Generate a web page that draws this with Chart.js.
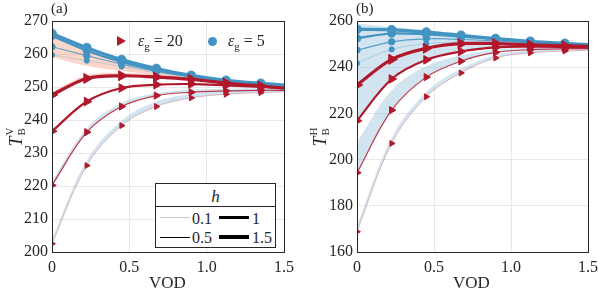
<!DOCTYPE html>
<html>
<head>
<meta charset="utf-8">
<script src="https://cdn.jsdelivr.net/npm/chart.js@4/dist/chart.umd.min.js"></script>
<style>
body{margin:0;background:#fff;font-family:"Liberation Serif","DejaVu Serif",serif;color:#262626}
#wrap{position:relative;width:598px;height:293px;overflow:hidden}
canvas{position:absolute;top:0}
.t{position:absolute;white-space:nowrap;line-height:1}
.ytl{transform:translate(-50%,-50%) rotate(-90deg);font-size:18px;display:flex;align-items:center}
.ss{display:inline-flex;flex-direction:column;font-size:11px;line-height:1.05;margin-left:1px;font-style:normal}
.lg{position:absolute;left:155px;top:183px;width:119px;height:63px;border:1px solid #262626;background:#fff}
.lg .hd{position:absolute;left:0;right:0;top:3px;text-align:center;font-style:italic;font-size:17px}
.lg .sep{position:absolute;left:0;right:0;top:22px;border-top:1px solid #262626}
.ln{position:absolute;height:0;border-top-style:solid}
.lb{position:absolute;font-size:16px}
.tri{position:absolute;width:0;height:0;border-top:5px solid transparent;border-bottom:5px solid transparent;border-left:9px solid rgb(178,24,43)}
.dot{position:absolute;width:9px;height:9px;border-radius:50%;background:rgb(67,147,195)}
</style>
</head>
<body>
<div id="wrap">
<canvas id="ca" width="300" height="293" style="left:0"></canvas>
<canvas id="cb" width="298" height="293" style="left:300px"></canvas>

<div class="t" style="left:51px;top:1px;font-size:15px">(a)</div>
<div class="t" style="left:356px;top:1px;font-size:15px">(b)</div>
<div class="t ytl" style="left:16px;top:137px"><i>T</i><span class="ss"><span>V</span><span>B</span></span></div>
<div class="t ytl" style="left:320px;top:137px"><i>T</i><span class="ss"><span>H</span><span>B</span></span></div>
<div class="t" style="left:149px;top:274px;font-size:17px">VOD</div>
<div class="t" style="left:453px;top:274px;font-size:17px">VOD</div>

<div class="tri" style="left:117px;top:36px"></div>
<div class="t" style="left:138px;top:33px;font-size:16px"><i>ε</i><sub style="font-size:11px">g</sub> = 20</div>
<div class="dot" style="left:208px;top:37px"></div>
<div class="t" style="left:228px;top:33px;font-size:16px"><i>ε</i><sub style="font-size:11px">g</sub> = 5</div>

<div class="lg">
  <div class="hd">h</div>
  <div class="sep"></div>
  <div class="ln" style="left:4px;top:33px;width:30px;border-top-width:1px;border-color:#c8c8c8"></div>
  <div class="lb" style="left:36px;top:26px">0.1</div>
  <div class="ln" style="left:63px;top:32px;width:30px;border-top-width:3px;border-color:#000"></div>
  <div class="lb" style="left:96px;top:26px">1</div>
  <div class="ln" style="left:4px;top:53px;width:30px;border-top-width:1px;border-color:#000"></div>
  <div class="lb" style="left:36px;top:45px">0.5</div>
  <div class="ln" style="left:63px;top:51px;width:30px;border-top-width:4px;border-color:#000"></div>
  <div class="lb" style="left:96px;top:45px">1.5</div>
</div>
</div>

<script>
var vod = [0, 0.225, 0.45, 0.675, 0.9, 1.125, 1.35, 1.5];
var hList = [0.1, 0.5, 1, 1.5];

// panel (a): T_B^V
var aRed01 = [202.5, 226.2, 238.3, 244.1, 246.7, 247.8, 248.3, 248.5];
var aRed05 = [220.2, 236.3, 244.1, 247.4, 248.4, 248.8, 249.0, 249.0];
var aRed1  = [236.6, 245.6, 249.7, 250.7, 250.9, 250.5, 250.0, 249.6];
var aRed15 = [247.6, 252.6, 253.4, 253.0, 252.3, 251.2, 250.3, 249.7];
var aBlue01 = [259.7, 258.0, 256.2, 254.3, 252.6, 251.4, 250.6, 250.2];
var aBlue05 = [262.2, 259.5, 256.9, 254.7, 253.0, 251.6, 250.7, 250.3];
var aBlue1  = [265.5, 261.0, 257.6, 255.1, 253.2, 251.8, 250.9, 250.4];
var aBlue15 = [266.2, 261.9, 258.3, 255.6, 253.5, 252.0, 251.1, 250.6];
var aBandRed01 = [204.0, 227.8, 239.8, 245.6, 247.9, 248.8, 249.2, 249.3];
var aBandRed05 = [221.5, 237.6, 245.2, 248.2, 249.2, 249.5, 249.6, 249.6];
var aBandRed15 = [248.4, 253.6, 254.3, 253.7, 252.8, 251.6, 250.6, 249.9];
var aBandBlue  = [259.0, 256.4, 254.9, 253.5, 252.2, 251.1, 250.3, 249.9];

// panel (b): T_B^H
var bRed01 = [168.8, 207.0, 227.2, 237.5, 244.0, 246.2, 247.0, 247.3];
var bRed05 = [194.3, 221.4, 235.7, 242.6, 246.4, 247.6, 248.0, 248.0];
var bRed1  = [216.8, 234.9, 243.2, 246.8, 248.6, 248.9, 248.8, 248.6];
var bRed15 = [232.3, 243.4, 248.2, 250.2, 250.2, 249.7, 249.3, 249.0];
var bBlue01 = [241.7, 247.7, 250.2, 250.9, 250.8, 250.3, 249.8, 249.5];
var bBlue05 = [247.4, 251.0, 252.3, 252.0, 251.4, 250.6, 250.0, 249.6];
var bBlue1  = [252.5, 254.6, 254.2, 253.2, 252.1, 251.0, 250.2, 249.7];
var bBlue15 = [256.4, 256.2, 255.2, 253.8, 252.4, 251.2, 250.3, 249.8];
var bBandRed01 = [171.5, 209.5, 229.3, 239.3, 245.3, 247.2, 247.8, 248.0];
var bBandRed05 = [207.5, 230.0, 240.5, 245.2, 247.6, 248.4, 248.7, 248.8];
var bBandRed1  = [232.0, 242.5, 247.5, 249.2, 249.7, 249.6, 249.3, 249.1];
var bBandRed15 = [258.8, 257.4, 256.0, 254.5, 253.0, 251.7, 250.7, 250.1];

var RED = '178,24,43', BLUE = '67,147,195';
var lw = [0.8, 1.2, 2.2, 3.2];
var la = [0.35, 0.85, 1, 1];
var triR = [3.4, 4.2, 5, 5.8];
var dotR = [2.6, 3.2, 3.8, 4.4];
var TENS = 0.35;
var FONT = '"Liberation Serif", "DejaVu Serif", serif';

function pts(arr) { return arr.map(function(v, i){ return {x: vod[i], y: v}; }); }

function lineDs(arr, col, k, tri) {
  var r = tri ? triR[k] : dotR[k];
  return {
    data: pts(arr), borderColor: 'rgba(' + col + ',' + la[k] + ')', borderWidth: lw[k],
    pointStyle: tri ? 'triangle' : 'circle', rotation: tri ? 90 : 0,
    pointRadius: arr.map(function(v, i){ return i < arr.length - 1 ? r : 0; }),
    pointBackgroundColor: 'rgb(' + col + ')', pointBorderColor: 'rgb(' + col + ')', pointBorderWidth: 1,
    tension: TENS, fill: false, order: 1
  };
}

function bandDs(arr, target, color) {
  return { data: pts(arr), borderWidth: 0, borderColor: 'rgba(0,0,0,0)', pointRadius: 0,
    backgroundColor: color, fill: {target: target}, tension: TENS, order: 10 };
}

var boxPlugin = {
  id: 'box',
  afterDraw: function(c) {
    var a = c.chartArea, ctx = c.ctx;
    ctx.save();
    ctx.strokeStyle = '#262626';
    ctx.lineWidth = 1;
    ctx.strokeRect(Math.round(a.left) + 0.5, Math.round(a.top) + 0.5, Math.round(a.right - a.left), Math.round(a.bottom - a.top));
    ctx.restore();
  }
};

function makeChart(id, datasets, yMin, yMax, yStep, leftW, rightPad) {
  return new Chart(document.getElementById(id), {
    type: 'line',
    data: { datasets: datasets },
    options: {
      responsive: false, animation: false, devicePixelRatio: 1,
      layout: { padding: { left: 0, right: rightPad, top: 21, bottom: 0 } },
      plugins: { legend: { display: false }, tooltip: { enabled: false } },
      scales: {
        x: {
          type: 'linear', min: 0, max: 1.5,
          ticks: { stepSize: 0.5, color: '#262626', font: { family: FONT, size: 16 }, padding: 6, maxRotation: 0 },
          grid: { color: '#e8e8e8', drawTicks: false },
          border: { display: false },
          afterFit: function(s) { s.height = 41; s.paddingLeft = 0; s.paddingRight = 0; }
        },
        y: {
          min: yMin, max: yMax,
          ticks: { stepSize: yStep, color: '#262626', font: { family: FONT, size: 16 }, padding: 4 },
          grid: { color: '#e8e8e8', drawTicks: false },
          border: { display: false },
          afterFit: function(s) { s.width = leftW; s.paddingTop = 0; s.paddingBottom = 0; }
        }
      }
    },
    plugins: [boxPlugin]
  });
}

var LB = 'rgba(146,190,220,0.42)', SAL = 'rgba(244,160,128,0.42)';

var dsA = [
  lineDs(aRed01, RED, 0, true), lineDs(aRed05, RED, 1, true), lineDs(aRed1, RED, 2, true), lineDs(aRed15, RED, 3, true),
  lineDs(aBlue01, BLUE, 0, false), lineDs(aBlue05, BLUE, 1, false), lineDs(aBlue1, BLUE, 2, false), lineDs(aBlue15, BLUE, 3, false)
];
dsA.push(bandDs(aBandRed01, 0, LB));
dsA.push(bandDs(aBandRed05, 1, LB));
dsA.push(bandDs(aBandRed15, 3, SAL));
dsA.push(bandDs(aBandBlue, 7, SAL));

var dsB = [
  lineDs(bRed01, RED, 0, true), lineDs(bRed05, RED, 1, true), lineDs(bRed1, RED, 2, true), lineDs(bRed15, RED, 3, true),
  lineDs(bBlue01, BLUE, 0, false), lineDs(bBlue05, BLUE, 1, false), lineDs(bBlue1, BLUE, 2, false), lineDs(bBlue15, BLUE, 3, false)
];
dsB.push(bandDs(bBandRed01, 0, LB));
dsB.push(bandDs(bBandRed05, 1, LB));
dsB.push(bandDs(bBandRed1, 2, LB));
dsB.push(bandDs(bBandRed15, 3, LB));

makeChart('ca', dsA, 200, 270, 10, 52, 16);
makeChart('cb', dsB, 160, 260, 20, 57, 10);
</script>
</body>
</html>
